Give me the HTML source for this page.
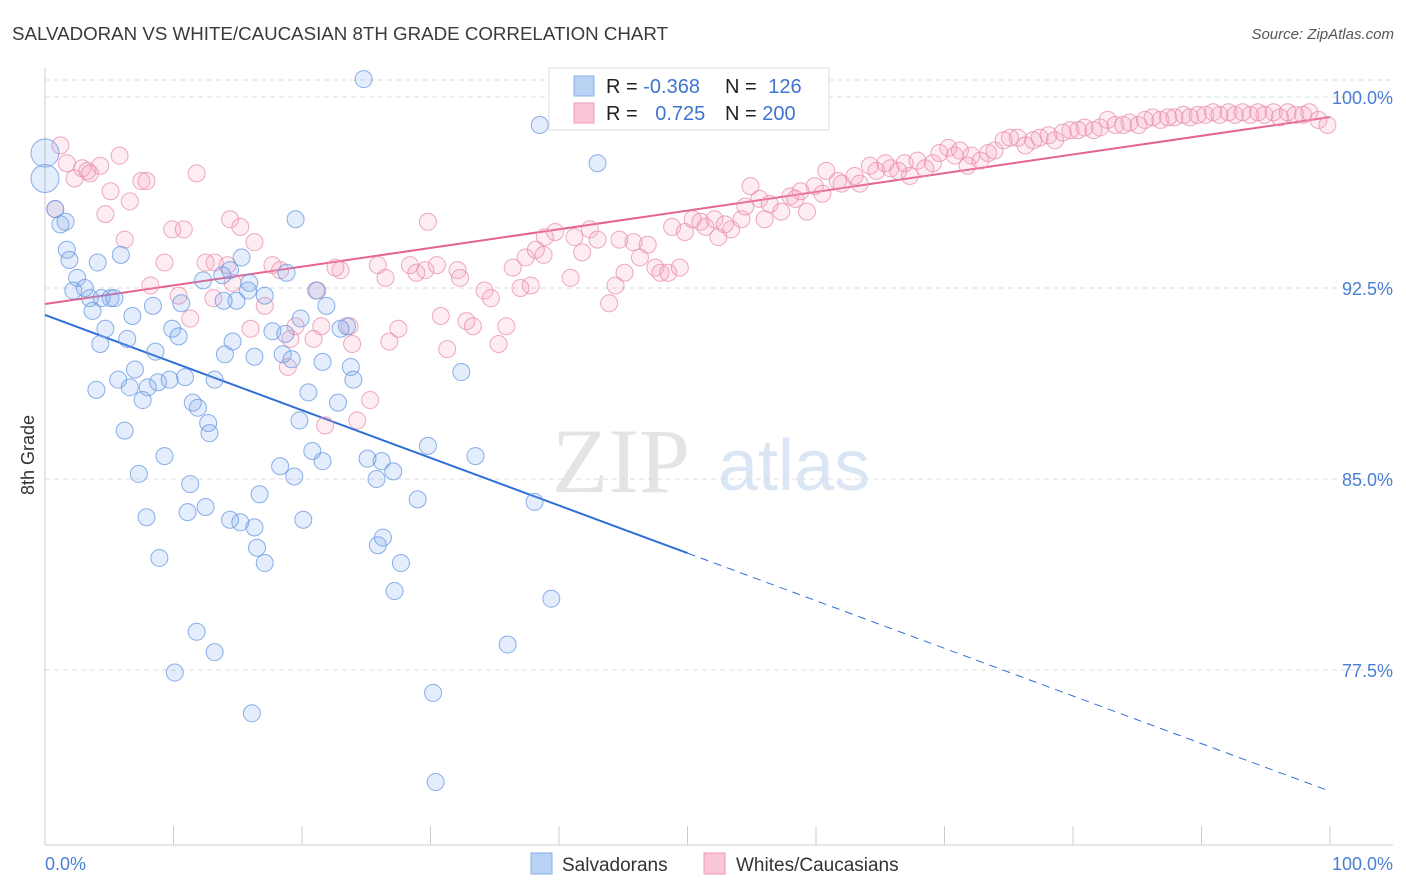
<!DOCTYPE html>
<html><head><meta charset="utf-8"><style>
body{margin:0;background:#fff;font-family:"Liberation Sans",sans-serif;}
#wrap{position:relative;width:1406px;height:892px;overflow:hidden;}
</style></head><body>
<div id="wrap">
<svg id="chart" width="1406" height="892" font-family="Liberation Sans, sans-serif">
<text x="12" y="40" font-size="18" fill="#3a3a3a" textLength="656" lengthAdjust="spacingAndGlyphs">SALVADORAN VS WHITE/CAUCASIAN 8TH GRADE CORRELATION CHART</text>
<text x="1394" y="39" font-size="15" fill="#555" font-style="italic" text-anchor="end">Source: ZipAtlas.com</text>
<text transform="translate(34,455) rotate(-90)" font-size="18" fill="#333" text-anchor="middle">8th Grade</text>
<g>
<text x="552" y="492" font-size="92" font-family="Liberation Serif, serif" fill="#e4e4e4">ZIP</text>
<text x="718" y="490" font-size="72" fill="#dbe6f5">atlas</text>
</g>
<g id="grid"></g><g id="axes"></g><g id="trend"></g><g id="pts"></g>
<g>
<rect x="549" y="68" width="280" height="62" fill="#fff" stroke="#ddd"/>
<rect x="574" y="76" width="20" height="20" fill="#b9d2f4" stroke="#86aee6"/>
<rect x="574" y="103" width="20" height="20" fill="#f9c6d5" stroke="#ec9ab5"/>
<text x="606" y="93" font-size="20" fill="#222">R = <tspan fill="#3f74d0">-0.368</tspan></text>
<text x="725" y="93" font-size="20" fill="#222">N = <tspan fill="#3f74d0" dx="6">126</tspan></text>
<text x="606" y="120" font-size="20" fill="#222">R = <tspan fill="#3f74d0" dx="12">0.725</tspan></text>
<text x="725" y="120" font-size="20" fill="#222">N = <tspan fill="#3f74d0">200</tspan></text>
</g>
<g>
<rect x="531" y="853" width="21" height="21" fill="#b9d2f4" stroke="#86aee6"/>
<text x="562" y="871" font-size="19" fill="#333">Salvadorans</text>
<rect x="704" y="853" width="21" height="21" fill="#f9c6d5" stroke="#ec9ab5"/>
<text x="736" y="871" font-size="19" fill="#333">Whites/Caucasians</text>
</g>
</svg>
</div>
<script>
const yTicks=[100,92.5,85,77.5];
const yTickLabels=["100.0%","92.5%","85.0%","77.5%"];
const xLabels=["0.0%","100.0%"];
const blueX=[0,0,0.8,1.2,1.6,1.7,1.9,2.5,2.2,3.1,3.5,3.7,4.1,4.4,5.1,5.4,5.9,4.3,4.7,6.4,6.8,8.4,9.9,10.6,10.4,8.6,7.0,5.7,4.0,6.6,7.6,8.0,8.8,9.7,10.9,13.2,11.5,11.9,12.7,12.8,6.2,7.3,9.3,11.3,7.9,11.1,12.5,14.4,15.2,16.3,16.7,16.5,17.1,8.9,11.8,10.1,13.2,16.1,18.3,19.4,20.1,20.8,21.6,22.8,23.8,24.0,23.0,23.5,21.6,20.5,19.8,18.5,19.2,17.7,18.7,19.9,14.6,14.0,14.9,17.1,15.8,15.9,14.4,13.8,12.3,15.3,18.8,19.5,21.9,21.1,24.8,38.5,43.0,25.1,26.2,25.8,27.1,25.9,26.3,27.7,27.2,29.0,29.8,33.5,32.4,30.2,30.4,36.0,38.1,39.4,13.9,16.3];
const blueY=[97.8,96.8,95.6,95.0,95.1,94.0,93.6,92.9,92.4,92.5,92.1,91.6,93.5,92.1,92.1,92.1,93.8,90.3,90.9,90.5,91.4,91.8,90.9,91.9,90.6,90.0,89.3,88.9,88.5,88.6,88.1,88.6,88.8,88.9,89.0,88.9,88.0,87.8,87.2,86.8,86.9,85.2,85.9,84.8,83.5,83.7,83.9,83.4,83.3,83.1,84.4,82.3,81.7,81.9,79.0,77.4,78.2,75.8,85.5,85.1,83.4,86.1,85.7,88.0,89.4,88.9,90.9,91.0,89.6,88.4,87.3,89.9,89.7,90.8,90.7,91.3,90.4,89.9,92.0,92.2,92.4,92.7,93.2,93.0,92.8,93.7,93.1,95.2,91.8,92.4,100.7,98.9,97.4,85.8,85.7,85.0,85.3,82.4,82.7,81.7,80.6,84.2,86.3,85.9,89.2,76.6,73.1,78.5,84.1,80.3,92.0,89.8];
const pinkX=[1.2,2.3,1.7,2.9,3.5,4.3,3.3,5.8,5.1,6.6,4.7,6.2,7.5,7.9,0.8,9.9,10.8,11.8,8.2,9.3,10.4,11.3,12.5,13.2,13.1,14.4,15.2,16.3,14.2,14.6,16.0,17.1,17.7,18.3,19.1,18.9,19.5,20.9,21.5,21.2,22.6,23.0,23.9,23.7,24.3,25.3,21.8,25.9,26.5,26.8,27.5,28.4,28.9,29.6,29.8,30.5,30.8,31.3,32.1,32.3,32.8,33.3,34.2,34.7,35.3,35.9,36.4,37.0,37.4,37.8,38.2,38.9,39.7,38.8,40.9,41.2,41.8,42.4,43.0,43.9,44.4,44.7,45.1,45.8,46.3,46.9,47.5,47.9,48.5,49.4,48.8,49.8,50.4,51.0,51.4,52.1,52.4,52.9,53.4,54.2,54.5,54.9,55.6,56.0,56.4,57.3,58.0,58.4,58.8,59.3,59.9,60.5,60.8,61.7,62.0,63.0,63.4,64.2,64.7,65.4,65.8,66.4,66.9,67.3,67.9,68.5,69.1,69.6,70.3,70.8,71.2,71.8,72.1,72.8,73.4,73.9,74.6,75.1,75.7,76.3,76.9,77.4,78.1,78.6,79.2,79.8,80.4,80.9,81.6,82.1,82.7,83.3,83.9,84.4,85.1,85.6,86.2,86.8,87.4,87.9,88.6,89.1,89.7,90.3,90.9,91.4,92.1,92.6,93.2,93.8,94.4,94.9,95.6,96.1,96.7,97.3,97.9,98.4,99.1,99.8];
const pinkY=[98.1,96.8,97.4,97.2,97.0,97.3,97.1,97.7,96.3,95.9,95.4,94.4,96.7,96.7,95.6,94.8,94.8,97.0,92.6,93.5,92.2,91.3,93.5,93.5,92.1,95.2,94.9,94.3,93.4,92.7,90.9,91.8,93.4,93.2,90.5,89.4,91.0,90.5,91.0,92.4,93.3,93.2,90.3,91.0,87.3,88.1,87.1,93.4,92.9,90.4,90.9,93.4,93.1,93.2,95.1,93.4,91.4,90.1,93.2,92.9,91.2,91.0,92.4,92.1,90.3,91.0,93.3,92.5,93.7,92.6,94.0,94.5,94.7,93.8,92.9,94.5,93.9,94.8,94.4,91.9,92.6,94.4,93.1,94.3,93.7,94.2,93.3,93.1,93.1,93.3,94.9,94.7,95.2,95.1,94.9,95.2,94.5,95.0,94.8,95.2,95.7,96.5,96.0,95.2,95.8,95.5,96.1,96.0,96.3,95.5,96.5,96.2,97.1,96.7,96.6,96.9,96.6,97.3,97.1,97.4,97.2,97.1,97.4,96.9,97.5,97.2,97.4,97.8,98.0,97.7,97.9,97.3,97.7,97.5,97.8,97.9,98.3,98.4,98.4,98.1,98.3,98.4,98.5,98.3,98.6,98.7,98.7,98.8,98.7,98.8,99.1,98.9,98.9,99.0,98.9,99.1,99.2,99.1,99.2,99.2,99.3,99.2,99.3,99.3,99.4,99.3,99.4,99.3,99.4,99.3,99.4,99.3,99.4,99.2,99.4,99.3,99.3,99.4,99.1,98.9];
const blueTrend=[91.44,-0.187]; // intercept, slope
const pinkTrend=[91.87,0.0734];
const blueSolidEnd=50;

const NS="http://www.w3.org/2000/svg";
const X0=45,X1=1330,YTOP=97,YPER=191/7.5,YBOT=845;
const sx=v=>X0+(X1-X0)*v/100;
const sy=v=>YTOP+(100-v)*YPER;
function mk(tag,attrs,parent){const e=document.createElementNS(NS,tag);for(const k in attrs)e.setAttribute(k,attrs[k]);parent.appendChild(e);return e;}
const grid=document.getElementById('grid'),axes=document.getElementById('axes'),trend=document.getElementById('trend'),pts=document.getElementById('pts');
let g=mk('line',{x1:X0,x2:1393,y1:80,y2:80,stroke:'#ddd','stroke-dasharray':'5,4'},grid);


yTicks.forEach((v,i)=>{
 const l=mk('line',{x1:X0,x2:1393,y1:sy(v),y2:sy(v),stroke:'#ddd','stroke-dasharray':'5,4'},grid);
 
 
 const t=mk('text',{x:1393,y:sy(v)+7,'font-size':18,fill:'#4a7fd4','text-anchor':'end'},axes);
 t.textContent=yTickLabels[i];
 
 
});
let a=mk('line',{x1:X0,x2:X0,y1:68,y2:YBOT,stroke:'#ccc'},axes);


a=mk('line',{x1:X0,x2:1393,y1:YBOT,y2:YBOT,stroke:'#ccc'},axes);


for(let i=0;i<=10;i++){
 const tk=mk('line',{x1:sx(i*10),x2:sx(i*10),y1:YBOT,y2:i==0?YBOT:826,stroke:'#ccc'},axes);
 
 
}
let xl=mk('text',{x:45,y:870,'font-size':18,fill:'#4a7fd4'},axes);xl.textContent=xLabels[0];


xl=mk('text',{x:1393,y:870,'font-size':18,fill:'#4a7fd4','text-anchor':'end'},axes);xl.textContent=xLabels[1];



function dot(x,y,r,fill,stroke,name){
 const c=mk('circle',{cx:sx(x),cy:sy(y),r:r,fill:fill,stroke:stroke,'stroke-width':1},pts);
 
 
}
pinkX.forEach((x,i)=>dot(x,pinkY[i],8.5,'rgba(244,160,190,0.2)','rgba(232,140,172,0.75)','white-point'));
blueX.forEach((x,i)=>dot(x,blueY[i],(i<2?14:8.5),'rgba(120,165,235,0.2)','rgba(100,150,225,0.75)','salvadoran-point'));

const bt=x=>blueTrend[0]+blueTrend[1]*x, pt=x=>pinkTrend[0]+pinkTrend[1]*x;
let tl=mk('line',{x1:sx(0),y1:sy(bt(0)),x2:sx(blueSolidEnd),y2:sy(bt(blueSolidEnd)),stroke:'#2f6fd6','stroke-width':2},trend);


tl=mk('line',{x1:sx(blueSolidEnd),y1:sy(bt(blueSolidEnd)),x2:sx(100),y2:sy(bt(100)),stroke:'#2f6fd6','stroke-width':1,'stroke-dasharray':'8,6'},trend);


tl=mk('line',{x1:sx(0),y1:sy(pt(0)),x2:sx(100),y2:sy(pt(100)),stroke:'#e4638f','stroke-width':2},trend);


</script>
</body></html>
